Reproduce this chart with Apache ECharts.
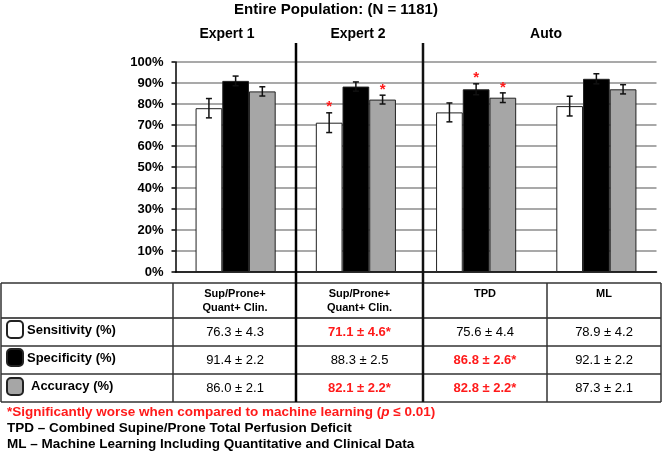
<!DOCTYPE html>
<html>
<head>
<meta charset="utf-8">
<script src="https://cdn.jsdelivr.net/npm/echarts@6/dist/echarts.min.js"></script>
<style>
  html, body { margin: 0; padding: 0; background: #fff; }
  #chart { width: 662px; height: 452px; }
</style>
</head>
<body>
<div id="chart"></div>
<script>
const groups = ['Expert 1', 'Expert 2', 'TPD', 'ML'];
const groupTitles = ['Expert 1', 'Expert 2', 'Auto'];

// bar heights (%)
const sensitivity = [78, 71.1, 76, 79];
const specificity = [91, 88.3, 87, 92];
const accuracy = [86, 82.1, 83, 87];

// half-length of the error bars (%)
const sensitivityErr = [4.6, 4.7, 4.5, 4.7];
const specificityErr = [2.3, 2.2, 2.6, 2.4];
const accuracyErr = [2.2, 2.1, 2.3, 2.2];

// red asterisk above the bar (worse than ML)
const sensitivityStar = [0, 1, 0, 0];
const specificityStar = [0, 0, 1, 0];
const accuracyStar = [0, 1, 1, 0];

const yTicks = [0, 10, 20, 30, 40, 50, 60, 70, 80, 90, 100];

// table below the chart
const colHeaders = ['Sup/Prone+\nQuant+ Clin.', 'Sup/Prone+\nQuant+ Clin.', 'TPD', 'ML'];
const rowLabels = ['Sensitivity (%)', 'Specificity (%)', 'Accuracy (%)'];
const tableMean = [
    ['76.3', '71.1', '75.6', '78.9'],
    ['91.4', '88.3', '86.8', '92.1'],
    ['86.0', '82.1', '82.8', '87.3'],
];
const tableSd = [
    ['4.3', '4.6', '4.4', '4.2'],
    ['2.2', '2.5', '2.6', '2.2'],
    ['2.1', '2.2', '2.2', '2.1'],
];
const tableSig = [
    [0, 1, 0, 0],
    [0, 0, 1, 0],
    [0, 1, 1, 0],
];
const footnotes = [
    'TPD – Combined Supine/Prone Total Perfusion Deficit',
    'ML – Machine Learning Including Quantitative and Clinical Data',
];

const FONT = '"Liberation Sans", Arial, Helvetica, sans-serif';
const BAR_W = 26.7;
const fills = ['#ffffff', '#000000', '#a6a6a6'];

const chart = echarts.init(document.getElementById('chart'));

function errorData(values, errs, stars, k) {
    return values.map((v, i) => [i, v - errs[i], v + errs[i], k, stars[i]]);
}

function renderError(params, api) {
    const cat = api.value(0);
    const k = api.value(3);
    const hi = api.coord([cat, api.value(2)]);
    const lo = api.coord([cat, api.value(1)]);
    const x = hi[0] + (k - 1) * BAR_W;
    const style = { stroke: '#111', lineWidth: 1.5 };
    const children = [
        { type: 'line', shape: { x1: x, y1: hi[1], x2: x, y2: lo[1] }, style },
        { type: 'line', shape: { x1: x - 3, y1: hi[1], x2: x + 3, y2: hi[1] }, style },
        { type: 'line', shape: { x1: x - 3, y1: lo[1], x2: x + 3, y2: lo[1] }, style },
    ];
    if (api.value(4)) {
        children.push({
            type: 'text',
            x: x,
            y: hi[1] + 2,
            style: {
                text: '*', fill: '#ff1a1a', font: 'bold 15px ' + FONT,
                align: 'center', verticalAlign: 'bottom',
            },
        });
    }
    return { type: 'group', children };
}

const graphics = [];
const txt = (x, y, text, font, extra) => graphics.push({
    type: 'text', x, y, z: 20,
    style: Object.assign({ text, font: font + ' ' + FONT, fill: '#000', align: 'center', verticalAlign: 'middle' }, extra || {}),
});
const line = (x1, y1, x2, y2, w, c) => graphics.push({
    type: 'line', z: 19, shape: { x1, y1, x2, y2 }, style: { stroke: c || '#333', lineWidth: w },
});

// titles
txt(336, 10, 'Entire Population: (N = 1181)', 'bold 15px');
txt(227, 34, groupTitles[0], 'bold 14px');
txt(358, 34, groupTitles[1], 'bold 14px');
txt(546, 34, groupTitles[2], 'bold 14px');

// table grid
const rowY = [283, 318, 346, 374, 402];
rowY.forEach((y, i) => line(1, y, 661, y, i === 1 ? 2 : 1.5, i === 1 ? '#555' : '#333'));
[1, 173, 547, 661].forEach(x => line(x, 283, x, 402, 1.5));
line(296, 43, 296, 402, 2.5, '#000');
line(423, 43, 423, 402, 2.5, '#111');

const colCenter = [235, 359.5, 485, 604];
colHeaders.forEach((h, j) => {
    txt(colCenter[j], h.indexOf('\n') > 0 ? 301 : 294, h, 'bold 11px', { lineHeight: 14 });
});

const rowCenter = [332, 360, 388];
const swatchY = [321, 349, 378];
rowLabels.forEach((label, i) => {
    graphics.push({
        type: 'rect', z: 20,
        shape: { x: 7, y: swatchY[i], width: 16, height: 17, r: 4 },
        style: { fill: fills[i], stroke: '#222', lineWidth: 2 },
    });
    txt(i === 2 ? 31 : 27, rowCenter[i] - 2, label, 'bold 13px', { align: 'left' });
    tableMean[i].forEach((m, j) => {
        const sig = tableSig[i][j];
        txt(colCenter[j], rowCenter[i], m + ' ± ' + tableSd[i][j] + (sig ? '*' : ''),
            sig ? 'bold 13px' : '13px', { fill: sig ? '#ff1a1a' : '#000' });
    });
});

// footnotes
graphics.push({
    type: 'text', x: 7, y: 412, z: 20,
    style: {
        text: '*Significantly worse when compared to machine learning ({i|p} ≤ 0.01)',
        font: 'bold 13.5px ' + FONT, fill: '#ff1a1a', verticalAlign: 'middle',
        rich: { i: { fontStyle: 'italic', fontWeight: 'bold', fontSize: 13.5, fontFamily: FONT, fill: '#ff1a1a' } },
    },
});
footnotes.forEach((f, i) => txt(7, 428.5 + i * 15.5, f, 'bold 13.5px', { align: 'left' }));

const barSeries = [sensitivity, specificity, accuracy].map((d, k) => ({
    type: 'bar',
    data: d,
    barWidth: BAR_W,
    barGap: '0%',
    itemStyle: { color: fills[k], borderColor: '#222', borderWidth: 1 },
    z: 3,
}));

const errSeries = [
    errorData(sensitivity, sensitivityErr, sensitivityStar, 0),
    errorData(specificity, specificityErr, specificityStar, 1),
    errorData(accuracy, accuracyErr, accuracyStar, 2),
].map(d => ({
    type: 'custom',
    data: d,
    encode: { x: 0, y: [1, 2] },
    renderItem: renderError,
    z: 5,
}));

chart.setOption({
    backgroundColor: '#fff',
    animation: false,
    grid: { left: 175.5, right: 5.5, top: 62, bottom: 180, containLabel: false },
    xAxis: {
        type: 'category',
        data: groups,
        axisLine: { lineStyle: { color: '#000', width: 1.5 } },
        axisTick: { show: false },
        axisLabel: { show: false },
    },
    yAxis: {
        type: 'value',
        min: yTicks[0],
        max: yTicks[yTicks.length - 1],
        interval: 10,
        axisLine: { show: true, lineStyle: { color: '#000', width: 1.5 } },
        axisTick: { show: true, length: 4, lineStyle: { color: '#000', width: 1.5 } },
        axisLabel: {
            formatter: '{value}%', color: '#000', fontWeight: 'bold', fontSize: 13,
            fontFamily: FONT, margin: 12,
        },
        splitLine: { lineStyle: { color: '#8c8c8c', width: 1.5 } },
    },
    series: barSeries.concat(errSeries),
    graphic: graphics,
});
</script>
</body>
</html>
